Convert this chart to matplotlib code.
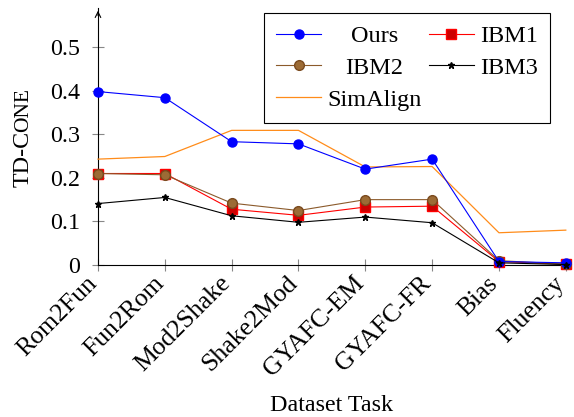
import matplotlib.pyplot as plt
from matplotlib.transforms import Affine2D

plt.rcParams['font.family'] = ['Liberation Serif', 'DejaVu Serif']

# data
tasks = ['Rom2Fun', 'Fun2Rom', 'Mod2Shake', 'Shake2Mod',
         'GYAFC-EM', 'GYAFC-FR', 'Bias', 'Fluency']
ours = [0.398, 0.384, 0.283, 0.278, 0.220, 0.243, 0.008, 0.005]
ibm1 = [0.210, 0.210, 0.128, 0.114, 0.133, 0.135, 0.008, 0.002]
ibm2 = [0.210, 0.207, 0.142, 0.125, 0.150, 0.150, 0.010, 0.002]
ibm3 = [0.141, 0.155, 0.113, 0.098, 0.110, 0.097, 0.005, 0.001]
simalign = [0.243, 0.249, 0.309, 0.309, 0.225, 0.226, 0.074, 0.080]
y_ticks = [0, 0.1, 0.2, 0.3, 0.4, 0.5]

FS = 17.3

fig = plt.figure(figsize=(5.74, 4.17), dpi=100)
ax = fig.add_axes([0.1707, 0.3645, 0.815, 0.6165])
x = range(len(tasks))

l_ours, = ax.plot(x, ours, color='blue', lw=0.8, marker='o', ms=6.5,
                  mfc='blue', mec='blue', clip_on=False, zorder=5)
l_ibm1, = ax.plot(x, ibm1, color='red', lw=0.8, marker='s', ms=6.5,
                  mfc='#cc0000', mec='red', clip_on=False, zorder=4)
l_ibm2, = ax.plot(x, ibm2, color='#8b5a2b', lw=0.8, marker='o', ms=7,
                  mfc='#9c6b35', mec='#7a4a1e', clip_on=False, zorder=4)
l_ibm3, = ax.plot(x, ibm3, color='black', lw=0.8, marker='*', ms=5,
                  clip_on=False, zorder=6)
l_sim, = ax.plot(x, simalign, color='#ff8c1a', lw=0.9, clip_on=False, zorder=3)

ax.set_xlim(0, len(tasks) - 1)
ax.set_ylim(0, 0.59)
ax.set_yticks(y_ticks)
ax.set_yticklabels(['0', '0.1', '0.2', '0.3', '0.4', '0.5'], fontsize=FS)
ax.set_xticks(list(x))
ax.set_xticklabels(tasks, rotation=45, ha='right', va='baseline',
                   rotation_mode='anchor', fontsize=18.5)
ax.tick_params(direction='inout', length=8, width=0.8, color='#888888')
ax.tick_params(axis='y', pad=9)
ax.tick_params(axis='x', pad=10)

for side in ['top', 'right']:
    ax.spines[side].set_visible(False)
ax.spines['left'].set_linewidth(0.8)
ax.spines['bottom'].set_linewidth(0.8)
ax.annotate('', xy=(0, 1.0), xytext=(0, 0.96), xycoords='axes fraction',
            arrowprops=dict(arrowstyle='->', lw=0.8, color='black'))

ax.set_xlabel('Dataset Task', fontsize=FS)
ax.xaxis.set_label_coords(0.5, -0.505)

# y label in small caps: "TD-C" + smaller "ONE"
t1 = fig.text(23 / 574, 1 - 187 / 417, 'TD-C', rotation=90, fontsize=FS,
              ha='center', va='bottom')
fig.canvas.draw()
bb = t1.get_window_extent()
fig.text(24 / 574, (bb.y1 - 1) / 417, 'ONE', rotation=90, fontsize=15.5,
         ha='center', va='bottom')

leg = ax.legend([l_ours, l_ibm2, l_sim, l_ibm1, l_ibm3],
                ['Ours', 'IBM2', 'SimAlign', 'IBM1', 'IBM3'],
                ncol=2, loc='upper right', bbox_to_anchor=(0.966, 0.9805),
                borderaxespad=0, fontsize=17.5, fancybox=False,
                edgecolor='black', framealpha=1, handlelength=1.85,
                columnspacing=0.3, labelspacing=0.4, borderpad=0.5,
                handletextpad=0.25)
leg.get_frame().set_linewidth(0.8)

# centre the first-column labels like the reference
fig.canvas.draw()
texts = leg.get_texts()
w_col = texts[2].get_window_extent().width
for t in texts[:2]:
    dx = (w_col - t.get_window_extent().width) / 2
    t.set_transform(t.get_transform() + Affine2D().translate(dx, 0))

fig.savefig('out.png', dpi=100)
